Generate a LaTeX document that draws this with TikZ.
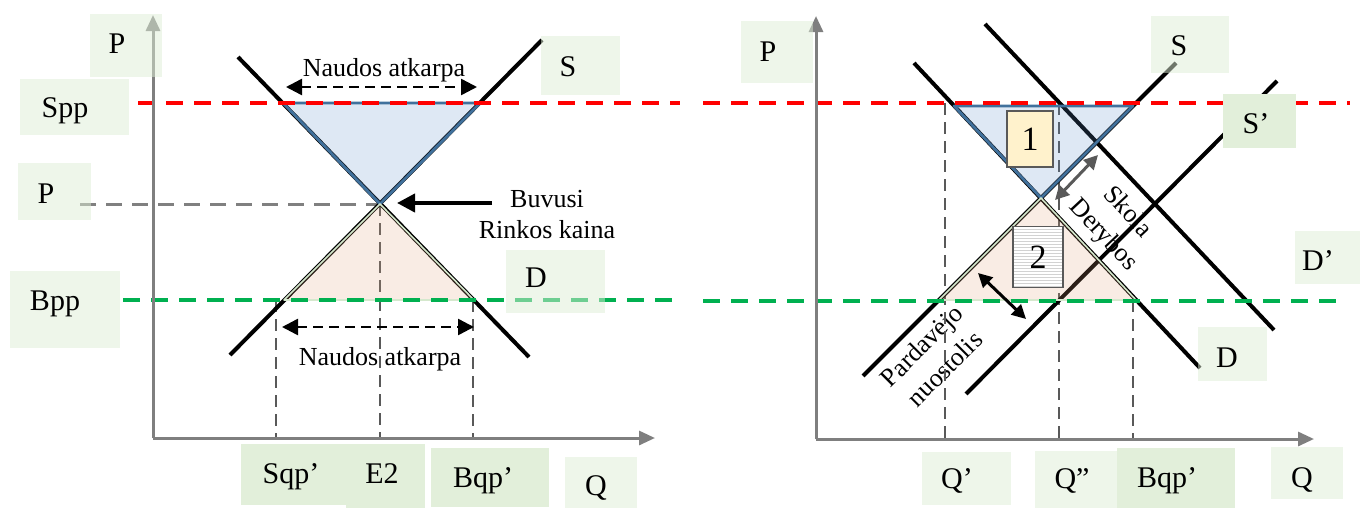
\documentclass[tikz,border=0pt]{standalone}
\usepackage{fontspec}
\setmainfont{Liberation Serif}
\usetikzlibrary{arrows.meta}

\definecolor{axisgray}{HTML}{7F7F7F}
\definecolor{guidegray}{HTML}{595959}
\definecolor{levelgray}{HTML}{808080}
\definecolor{sellred}{HTML}{FF0000}
\definecolor{buygreen}{HTML}{00B050}
\definecolor{tagbase}{HTML}{DDEDD5}
\definecolor{tagdark}{HTML}{E2EFDA}
\definecolor{gainfill}{HTML}{5A8CC8}
\definecolor{gainedge}{HTML}{41719C}
\definecolor{lossfill}{HTML}{DF9F7A}
\definecolor{lossedge}{HTML}{D5E8CD}
\definecolor{boxone}{HTML}{FFF2CC}

\tikzset{
  axisline/.style={axisgray, line width=1.5pt, -{Triangle[length=8pt,width=7pt]}},
  curve/.style={black, line width=2pt},
  pricered/.style={sellred, line width=2pt, dash pattern=on 8.5pt off 5.5pt},
  pricegreen/.style={buygreen, line width=2pt, dash pattern=on 8.5pt off 5.5pt},
  guide/.style={guidegray, line width=1pt, dash pattern=on 6pt off 3.5pt},
  levelguide/.style={levelgray, line width=1.5pt, dash pattern=on 8pt off 5pt},
  spanarrow/.style={black, line width=1.25pt, dash pattern=on 5pt off 3pt,
    {Triangle[length=8pt,width=8pt]}-{Triangle[length=8pt,width=8pt]}},
  pointer/.style={black, line width=2pt, -{Triangle[length=9pt,width=9pt]}},
  gaparrow/.style={guidegray, line width=1.5pt,
    {Triangle[length=7pt,width=7pt]}-{Triangle[length=7pt,width=7pt]}},
  lossarrow/.style={black, line width=1.5pt,
    {Triangle[length=7pt,width=7pt]}-{Triangle[length=7pt,width=7pt]}},
  gainarea/.style={fill=gainfill, fill opacity=0.2, draw=gainedge, line width=1.4pt, line join=round},
  lossarea/.style={fill=lossfill, fill opacity=0.2, draw=lossedge, line width=0.8pt, line join=round},
  tagbg/.style={fill=tagbase, fill opacity=0.5},
  tagbgdark/.style={fill=tagdark},
  tag/.style={font=\fontsize{15}{18}\selectfont, anchor=base, inner sep=0pt},
  caption/.style={font=\fontsize{13}{15.5}\selectfont, align=center, inner sep=0pt},
  slantcaption/.style={font=\fontsize{13}{16.5}\selectfont, align=center, inner sep=0pt},
  areanum/.style={draw=guidegray, line width=0.75pt, inner sep=0pt, font=\fontsize{17}{20}\selectfont},
}

\begin{document}
\begin{tikzpicture}[x=0.5pt,y=-0.5pt]
\useasboundingbox (0,0) rectangle (1360,509);

% ---------------- left panel ----------------
\coordinate (LO) at (153,438);
\coordinate (LYtop) at (153,15);
\coordinate (LXend) at (655,438);
\coordinate (LE) at (380,204);

% guide lines
\draw[levelguide] (80,204) -- (LE);
\draw[guide] (LE) -- (380,438);
\draw[guide] (276,300) -- (276,438);
\draw[guide] (473,300) -- (473,438);

% demand and supply
\draw[curve] (238,57) -- (529,357);
\draw[curve] (230,355) -- (542,40);

% shaded areas
\filldraw[gainarea] (283,103) -- (480,103) -- (LE) -- cycle;
\filldraw[lossarea] (284,300) -- (474,300) -- (LE) -- cycle;

% price levels
\draw[pricered] (138,103) -- (680,103);
\draw[pricegreen] (123,300) -- (680,300);

% axes
\draw[axisline] (LO) -- (LYtop);
\draw[axisline] (LO) -- (LXend);

% spans and pointer
\draw[spanarrow] (286,87) -- (477,87);
\draw[spanarrow] (282,327) -- (474,327);
\node[caption, anchor=base] (gaptop) at (384,76) {Naudos atkarpa};
\node[caption, anchor=base] (gapbot) at (380,365) {Naudos atkarpa};
\node[caption] (oldprice) at (547,215) {Buvusi\\Rinkos kaina};
\draw[pointer] (492,203) -- (397,203);

% label boxes
\fill[tagbg] (90,14) rectangle (162,77);
\fill[tagbg] (20,79) rectangle (129,135);
\fill[tagbg] (18,163) rectangle (91,220);
\fill[tagbg] (10,271) rectangle (120,348);
\fill[tagbg] (541,36) rectangle (620,95);
\fill[tagbg] (506,250) rectangle (605,313);
\fill[tagbgdark] (241,444) rectangle (346,505);
\fill[tagbgdark] (346,444) rectangle (425,508);
\fill[tagbgdark] (431,448) rectangle (549,507);
\fill[tagbg] (565,457) rectangle (637,508);

\node[tag] (lP) at (117,53) {P};
\node[tag] (lSpp) at (65,117) {Spp};
\node[tag] (lPe) at (46,203) {P};
\node[tag] (lBpp) at (55,310) {Bpp};
\node[tag] (lS) at (568,76) {S};
\node[tag] (lD) at (536,287) {D};
\node[tag] (lSqp) at (291,483) {Sqp’};
\node[tag] (lE2) at (382,483) {E2};
\node[tag] (lBqp) at (483,487) {Bqp’};
\node[tag] (lQ) at (596,495) {Q};

% ---------------- right panel ----------------
\coordinate (RO) at (816,439);
\coordinate (RYtop) at (816,16);
\coordinate (RXend) at (1314,439);
\coordinate (RE) at (1041,198);

% rotated captions (lines run over them)
\node[slantcaption, rotate=-47] (debt) at (1115,224) {Skola\\Derybos};
\node[slantcaption, rotate=45] (sellerloss) at (933,357) {Pardavėjo\\nuostolis};

% guide lines
\draw[guide] (945,103) -- (945,439);
\draw[guide] (1059,103) -- (1059,439);
\draw[guide] (1133,300) -- (1133,439);

% demand and supply, original and shifted
\draw[curve] (914,63) -- (1200,368);
\draw[curve] (985,24) -- (1274,330);
\draw[curve] (863,376) -- (1176,63);
\draw[curve] (966,394) -- (1277,81);

% shaded areas
\filldraw[gainarea] (954,106) -- (1133,106) -- (RE) -- cycle;
\filldraw[lossarea] (939,300) -- (1136,300) -- (RE) -- cycle;

% price levels
\draw[pricered] (703,103) -- (1350,103);
\draw[pricegreen] (703,301) -- (1345,301);

% axes
\draw[axisline] (RO) -- (RYtop);
\draw[axisline] (RO) -- (RXend);

% gap arrows
\draw[gaparrow] (1098,155) -- (1055,200);
\draw[lossarrow] (978,273) -- (1026,319);

% numbered areas
\node[areanum, fill=boxone, minimum width=23pt, minimum height=28pt] (area1) at (1030,139) {1};
\node[areanum, fill=white, minimum width=25pt, minimum height=30.5pt,
  path picture={\foreach \k in {1,...,20}
    \draw[gray!35, line width=0.3pt]
      ([yshift=-\k*1.5pt]path picture bounding box.north west) --
      ([yshift=-\k*1.5pt]path picture bounding box.north east);}] (area2) at (1038,257) {2};

% label boxes
\fill[tagbg] (741,21) rectangle (813,83);
\fill[tagbg] (1151,16) rectangle (1229,73);
\fill[tagbgdark] (1223,94) rectangle (1296,148);
\fill[tagbg] (1295,231) rectangle (1360,284);
\fill[tagbg] (1198,327) rectangle (1267,381);
\fill[tagbg] (922,452) rectangle (1011,505);
\fill[tagbg] (1035,451) rectangle (1117,508);
\fill[tagbgdark] (1117,448) rectangle (1235,508);
\fill[tagbg] (1271,447) rectangle (1343,499);

\node[tag] (rP) at (768,61) {P};
\node[tag] (rS) at (1179,55) {S};
\node[tag] (rS2) at (1256,133) {S’};
\node[tag] (rD2) at (1318,270) {D’};
\node[tag] (rD) at (1227,367) {D};
\node[tag] (rQ1) at (957,488) {Q’};
\node[tag] (rQ2) at (1072,488) {Q”};
\node[tag] (rBqp) at (1167,487) {Bqp’};
\node[tag] (rQ) at (1302,487) {Q};
\end{tikzpicture}
\end{document}
